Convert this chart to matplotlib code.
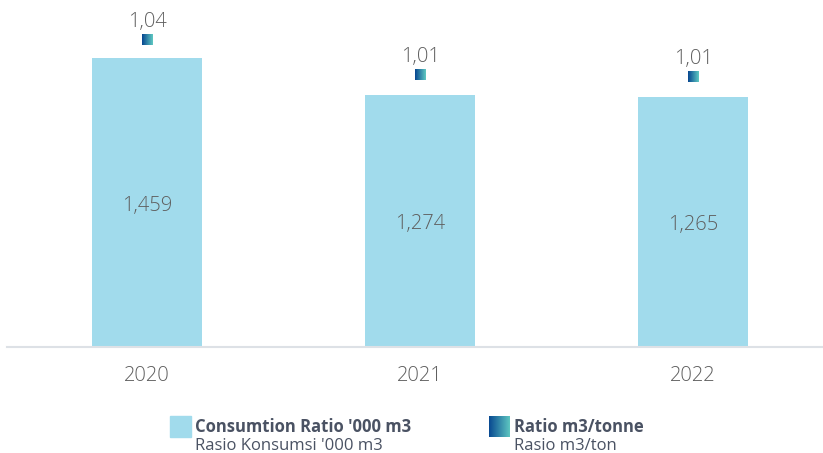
import numpy as np
import matplotlib
matplotlib.use("Agg")
import matplotlib.pyplot as plt
from matplotlib.offsetbox import OffsetImage, AnnotationBbox
from matplotlib.colors import to_rgb

years = ["2020", "2021", "2022"]
consumption = [1459, 1274, 1265]
consumption_labels = ["1,459", "1,274", "1,265"]
ratio = [1.04, 1.011, 1.009]
ratio_labels = ["1,04", "1,01", "1,01"]

BAR_COLOR = "#a1dbec"
TEXT_GRAY = "#5f5f5f"
LEGEND_TEXT = "#4a5263"
GRAD_L = "#0a4b92"
GRAD_R = "#5cc3c0"

plt.rcParams['font.family'] = ['Open Sans', 'DejaVu Sans']

W, H = 823, 453
fig = plt.figure(figsize=(W / 100, H / 100), dpi=100)
ax_left, ax_right = 7, 823
ax_bottom, ax_top = 347, 10
ax = fig.add_axes([ax_left / W, 1 - ax_bottom / H, (ax_right - ax_left) / W, (ax_bottom - ax_top) / H])

x = np.arange(len(years))
ax.bar(x, consumption, width=0.40, color=BAR_COLOR, zorder=2)
ax.set_xlim(-0.513, 2.476)
ax.set_ylim(0, 1703)
for xi, v, lab in zip(x, consumption, consumption_labels):
    ax.annotate(lab, (xi, v / 2), xytext=(0, -2.5), textcoords="offset points",
                ha="center", va="center", fontsize=14.5,
                color=TEXT_GRAY, fontweight="light")

for s in ["top", "right", "left"]:
    ax.spines[s].set_visible(False)
ax.spines["bottom"].set_color("#dde1e6")
ax.spines["bottom"].set_linewidth(1.5)
ax.set_yticks([])
ax.set_xticks(x)
ax.set_xticklabels(years, fontsize=14.5, color=TEXT_GRAY, fontweight="light")
ax.tick_params(axis="x", length=0, pad=14)

ax2 = ax.twinx()
ax2.set_ylim(0.784, 0.784 + 337 / 1200)
ax2.axis("off")

# gradient square marker
n = 11
l = np.array(to_rgb(GRAD_L)); r = np.array(to_rgb(GRAD_R))
t = np.linspace(0, 1, n)
row = l[None, :] * (1 - t[:, None]) + r[None, :] * t[:, None]
grad = np.repeat(row[None, :, :], n, axis=0)
for xi, v, lab in zip(x, ratio, ratio_labels):
    ab = AnnotationBbox(OffsetImage(grad, zoom=1, dpi_cor=False), (xi, v), frameon=False, pad=0)
    ax2.add_artist(ab)
    ax2.annotate(lab, (xi, v), xytext=(0, 13), textcoords="offset points",
                 ha="center", va="center", fontsize=14.5, color=TEXT_GRAY,
                 fontweight="light")

# legend
sq = 21
tb = np.linspace(0, 1, sq)
grad_big = np.repeat((l[None, :] * (1 - tb[:, None]) + r[None, :] * tb[:, None])[None, :, :], sq, axis=0)
lax = fig.add_axes([0, 0, 1, 1], zorder=-1)
lax.set_xlim(0, W); lax.set_ylim(H, 0); lax.axis("off")
lax.add_patch(plt.Rectangle((170, 416), sq, sq, color=BAR_COLOR))
lax.imshow(grad_big, extent=(489, 489 + sq, 416 + sq, 416), aspect="auto")
lax.set_xlim(0, W); lax.set_ylim(H, 0)
lax.text(195, 427, "Consumtion Ratio '000 m3", fontsize=12, fontweight="bold",
         color=LEGEND_TEXT, va="center", ha="left")
lax.text(195, 446, "Rasio Konsumsi '000 m3", fontsize=12,
         color=LEGEND_TEXT, va="center", ha="left")
lax.text(514, 427, "Ratio m3/tonne", fontsize=12, fontweight="bold",
         color=LEGEND_TEXT, va="center", ha="left")
lax.text(514, 446, "Rasio m3/ton", fontsize=12,
         color=LEGEND_TEXT, va="center", ha="left")

fig.savefig("out.png", dpi=100)
